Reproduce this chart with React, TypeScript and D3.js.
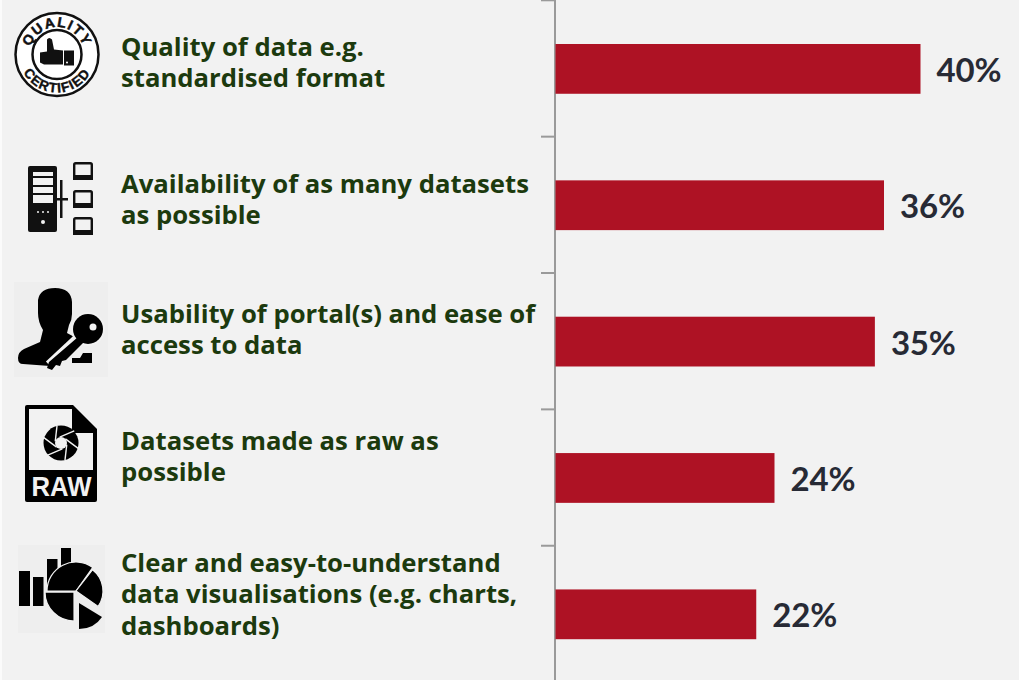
import React, { useEffect, useRef } from 'react';
import * as d3 from 'd3';

const categories = ['quality', 'datasets', 'usability', 'raw', 'charts'];
const values = [40, 36, 35, 24, 22];
const labels = [
  ['Quality of data e.g.', 'standardised format'],
  ['Availability of as many datasets', 'as possible'],
  ['Usability of portal(s) and ease of', 'access to data'],
  ['Datasets made as raw as', 'possible'],
  ['Clear and easy-to-understand', 'data visualisations (e.g. charts,', 'dashboards)'],
];
// first baseline of each label, they don't line up with the bars
const labelTops = [56, 193, 323, 450, 572];

const W = 1019;
const H = 680;
const BG = '#f2f2f2';
const RED = '#ae1224';
const GREEN = '#1c3a0e';
const INK = '#272a35';

// hand drawn icons
const QualityIcon = () => (
  <g transform="translate(57,54.5)">
    <circle r="41.5" fill="#fff" stroke="#111" strokeWidth="2.5" />
    <circle r="24.5" fill="#fff" stroke="#111" strokeWidth="2.5" />
    <path id="qtop" d="M-27.5,0 A27.5,27.5 0 0 1 27.5,0" fill="none" />
    <path id="qbot" d="M-38,0 A38,38 0 0 0 38,0" fill="none" />
    <text fontFamily="Liberation Sans" fontWeight="700" fontSize="14" fill="#111" stroke="#111" strokeWidth="0.5">
      <textPath href="#qtop" startOffset="50%" textAnchor="middle" letterSpacing="1.4">QUALITY</textPath>
    </text>
    <text fontFamily="Liberation Sans" fontWeight="700" fontSize="13.5" fill="#111" stroke="#111" strokeWidth="0.4">
      <textPath href="#qbot" startOffset="50%" textAnchor="middle" letterSpacing="1.2">CERTIFIED</textPath>
    </text>
    <path d="M-17,-2 L-10,-3 L-10,-15 Q-8,-18 -5,-15 L-3,-5 L6,-4 L6,10 L-13,10 L-17,8 Z" fill="#111" />
    <rect x="7" y="-4" width="10" height="15" fill="#111" />
    <circle cx="10" cy="8" r="1" fill="#fff" />
  </g>
);

const ServerIcon = () => (
  <g transform="translate(28,162)" fill="#111">
    <rect x="0" y="4" width="29" height="66" rx="2" />
    <g fill={BG}>
      <rect x="5" y="10" width="20" height="4" />
      <rect x="5" y="16" width="20" height="7" />
      <rect x="5" y="25" width="20" height="6" />
      <rect x="5" y="33" width="20" height="8" />
      <circle cx="10" cy="50" r="1" />
      <circle cx="15" cy="50" r="1" />
      <circle cx="20" cy="50" r="1" />
      <circle cx="15" cy="60" r="2" />
    </g>
    <rect x="32" y="18" width="2.5" height="38" />
    <rect x="27" y="36" width="13" height="2.5" />
    {[0, 28, 55].map(dy => (
      <g key={dy} transform={`translate(45,${dy})`}>
        <rect x="1.2" y="1.2" width="17.6" height="15" rx="1.5" fill="none" stroke="#111" strokeWidth="2.4" />
        <rect x="0" y="13" width="20" height="5" />
      </g>
    ))}
  </g>
);

const UserKeyIcon = () => (
  <g>
    <rect x="14" y="282" width="94" height="95" fill="#eeeeee" />
    <path d="M38,300 Q40,288 55,288 Q71,288 72,302 L72,314 Q72,320 69,325 L67,333 L80,340 L50,366 L23,364 Q18,364 18,358 Q18,352 24,349 L40,342 L43,330 Q38,322 38,313 Z" fill="#000" />
    <line x1="80" y1="338" x2="50" y2="366" stroke={BG} strokeWidth="12" />
    <circle cx="88" cy="329" r="17" fill={BG} />
    <circle cx="88" cy="329" r="15" fill="#000" />
    <path d="M78,337 L49,362 L47,368 L52,370 L56,365 L60,366 L62,361 L66,360 L84,342 Z" fill="#000" />
    <circle cx="93" cy="327" r="3.5" fill={BG} />
    <path d="M92,353 L92,363 L72,363 L72,358 L80,358 L83,353 Z" fill="#000" />
  </g>
);

const RawIcon = () => {
  const blades = d3.range(6).map(i => {
    const a = (i * Math.PI) / 3 + 0.3;
    const p = (r: number, t: number) => [r * Math.cos(t), r * Math.sin(t)];
    const [x1, y1] = p(6, a);
    const [x2, y2] = p(18, a + 1.05);
    return `M${x1},${y1}L${x2},${y2}`;
  });
  return (
    <g transform="translate(25,405)">
      <path d="M2,0 L48,0 L72,24 L72,95 Q72,97 70,97 L2,97 Q0,97 0,95 L0,2 Q0,0 2,0 Z" fill="#000" />
      <path d="M4,4 L47,4 L47,28 L68,28 L68,65 L4,65 Z" fill={BG} />
      <g transform="translate(36,38)">
        <circle r="17.5" fill="#000" />
        <circle r="6" fill={BG} />
        {blades.map((d, i) => <path key={i} d={d} stroke={BG} strokeWidth="1.4" />)}
      </g>
      <text x="36.5" y="91" textAnchor="middle" fontFamily="Liberation Sans" fontWeight="700" fontSize="28" textLength="60" lengthAdjust="spacingAndGlyphs" fill={BG}>RAW</text>
    </g>
  );
};

const ChartsIcon = () => {
  const arc = d3.arc();
  const slices = [
    { r: 29, a: -1.57, b: 0.62, cx: 76, cy: 591 },
    { r: 27, a: 0.66, b: 2.18, cx: 76, cy: 591 },
    { r: 29, a: 3.14, b: 4.71, cx: 74, cy: 592 },
  ];
  return (
    <g>
      <rect x="18" y="545" width="87" height="88" fill="#eeeeee" />
      <rect x="19" y="571" width="11" height="35" fill="#000" />
      <rect x="33" y="577" width="10.5" height="29" fill="#000" />
      <rect x="47" y="559" width="10.5" height="31" fill="#000" />
      <rect x="61" y="548" width="10" height="18" fill="#000" />
      {slices.map((s, i) => (
        <path
          key={i}
          d={arc({ innerRadius: 0, outerRadius: s.r, startAngle: s.a, endAngle: s.b }) ?? ''}
          transform={`translate(${s.cx},${s.cy})`}
          fill="#000"
          stroke={BG}
          strokeWidth="1.2"
        />
      ))}
      <path d="M79,603 L102,617 Q94,629 79,629 Z" fill="#000" />
    </g>
  );
};

const App = () => {
  const axisRef = useRef<SVGGElement>(null);

  const x = d3.scaleLinear().domain([0, 40]).range([555.5, 920.5]);
  const y = d3.scaleBand().domain(categories).range([0.7, 682.5]).paddingInner(0.635).paddingOuter(0.3175);

  useEffect(() => {
    document.body.style.margin = '0';
    document.body.style.overflow = 'hidden';

    // category axis, ticks sit on the band boundaries
    const g = d3.select(axisRef.current);
    g.selectAll('*').remove();
    const step = y.step();
    const boundaries = d3.range(categories.length + 1).map(i => i * step + 0.3);
    g.append('line').attr('x1', 555).attr('x2', 555).attr('y1', 0).attr('y2', H).attr('stroke', '#9a9a9a').attr('stroke-width', 2);
    g.selectAll('line.tick')
      .data(boundaries)
      .enter()
      .append('line')
      .attr('class', 'tick')
      .attr('x1', 541)
      .attr('x2', 555)
      .attr('y1', d => d)
      .attr('y2', d => d)
      .attr('stroke', '#9a9a9a')
      .attr('stroke-width', 2);
  }, []);

  return (
    <svg width={W} height={H} viewBox={`0 0 ${W} ${H}`} style={{ display: 'block' }}>
      <rect width={W} height={H} fill={BG} />
      <rect width={2} height={H} fill="#fbfbfb" />
      <g ref={axisRef} />
      {categories.map((c, i) => (
        <g key={c}>
          <rect x={x(0)} y={y(c)} width={x(values[i]) - x(0)} height={y.bandwidth()} fill={RED} />
          <text
            x={x(values[i]) + 16}
            y={(y(c) ?? 0) + y.bandwidth() / 2 + 13}
            fontFamily="Lato"
            fontWeight="700"
            fontSize="33"
            letterSpacing="-0.2"
            fill={INK}
          >
            {values[i]}%
          </text>
        </g>
      ))}
      {labels.map((lines, i) =>
        lines.map((line, j) => (
          <text key={line} x={121} y={labelTops[i] + j * 31.3} fontFamily="Open Sans" fontWeight="700" fontSize="25.7" fill={GREEN}>
            {line}
          </text>
        ))
      )}
      <QualityIcon />
      <ServerIcon />
      <UserKeyIcon />
      <RawIcon />
      <ChartsIcon />
    </svg>
  );
};

export default App;
